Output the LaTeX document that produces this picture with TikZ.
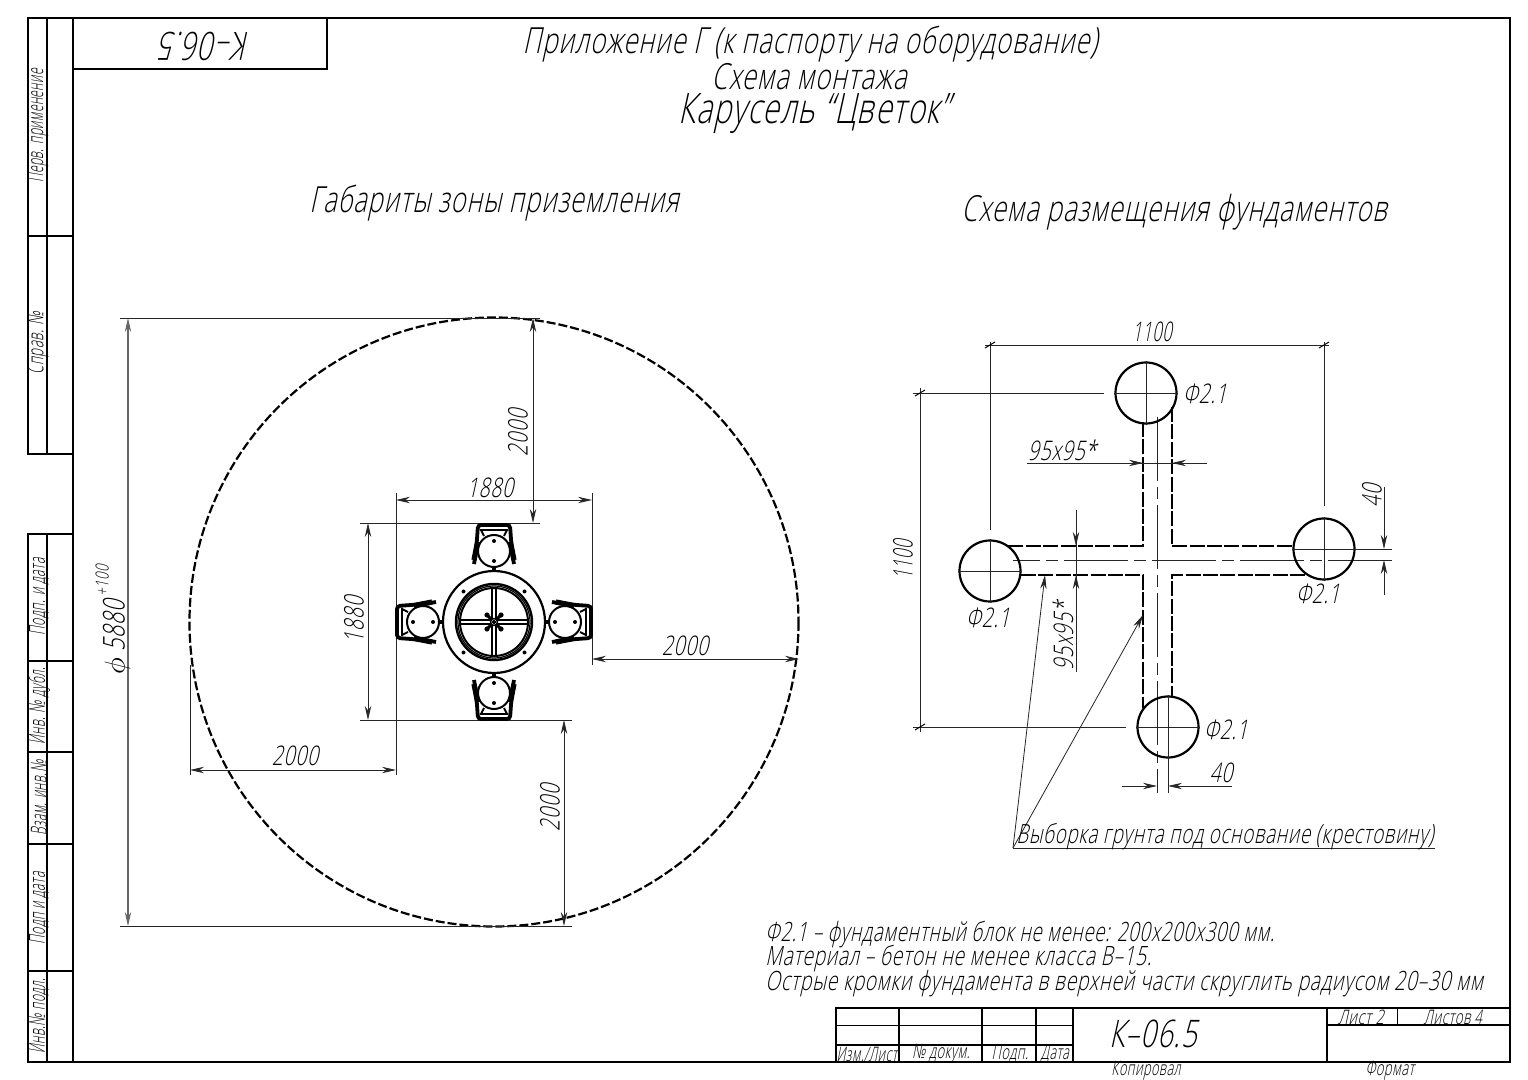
\documentclass[tikz,border=0pt]{standalone}
\usepackage{fontspec}
\usepackage{graphicx}
\usetikzlibrary{arrows.meta}
\setmainfont[FakeSlant=0.22,FakeStretch=0.72,LetterSpace=2.5]{Open Sans Light}
\newcommand\fsz[1]{\fontsize{#1}{#1}\selectfont}
\newcommand\nrw[2]{\scalebox{#1}[1]{#2}}
\tikzset{
 x=0.5pt,y=-0.5pt,
 tx/.style={inner sep=0pt,anchor=center,text=black},
 frame/.style={line width=0.95pt,black},
 thin line/.style={line width=0.38pt,black!85},
 dimline/.style={line width=0.4pt,black!85},
 dbl/.style={dimline,{Stealth[length=7pt,width=3.2pt]}-{Stealth[length=7pt,width=3.2pt]}},
 tipend/.style={dimline,-{Stealth[length=7pt,width=3.2pt]}},
 hidden/.style={line width=1.1pt,black,dash pattern=on 7.5pt off 1.2pt},
 axis/.style={line width=0.38pt,black!85,dash pattern=on 32pt off 3pt on 6pt off 3pt},
 found/.style={circle,draw=black,line width=1.1pt,minimum size=30.5pt,inner sep=0pt},
}
\begin{document}
\begin{tikzpicture}
\useasboundingbox[fill=white] (0,0) rectangle (1528,1080);
% frame
\draw[frame] (73,18) rectangle (1510,1062);
\draw[frame] (28,18) rectangle (73,454);
\draw[frame] (47,18) -- (47,454);
\draw[line width=.6pt] (28,236) -- (73,236);
\draw[frame] (28,534) rectangle (73,1062);
\draw[frame] (47,534) -- (47,1062);
\foreach \yy in {661,752,844,971} \draw[line width=.6pt] (28,\yy) -- (73,\yy);
\draw[frame] (73,69) -- (327,69) -- (327,18);
% left strip text
\node[tx,rotate=90] (t1) at (38,126) {\fsz{11}\nrw{.76}{Перв. применение}};
\node[tx,rotate=90] (t2) at (38,343) {\fsz{11}\nrw{.84}{Справ. №}};
\node[tx,rotate=90] (t3) at (39,597) {\fsz{11}\nrw{.78}{Подп. и дата}};
\node[tx,rotate=90] (t4) at (39,706) {\fsz{11}\nrw{.76}{Инв. № дубл.}};
\node[tx,rotate=90] (t5) at (39,798) {\fsz{11}\nrw{.76}{Взам. инв.№}};
\node[tx,rotate=90] (t6) at (39,908) {\fsz{11}\nrw{.78}{Подп и дата}};
\node[tx,rotate=90] (t7) at (39,1016) {\fsz{11}\nrw{.76}{Инв.№ подл.}};
\node[tx,rotate=180] (t8) at (206,46) {\fsz{19.5}К–06.5};
% titles
\node[tx] (h1) at (810,44) {\fsz{18}Приложение Г (к паспорту на оборудование)};
\node[tx] (h2) at (809,77) {\fsz{18}Схема монтажа};
\node[tx] (h3) at (814,114) {\fsz{21}Карусель “Цветок”};
\node[tx] (h4) at (494,203) {\fsz{18}\nrw{.985}{Габариты зоны приземления}};
\node[tx] (h5) at (1174,212) {\fsz{18}Схема размещения фундаментов};
% left view
\draw[line width=1.1pt,black,dash pattern=on 4.5pt off 1.5pt] (494,622) circle[radius=304.5];
\draw[thin line] (120,318) -- (540,318);
\draw[thin line] (120,926) -- (572,926);
\draw[dbl,black!60,line width=.55pt] (128,318) -- (128,926);
\node[tx,rotate=90] (d1) at (113,620) {\fsz{15}$\phi$ 5880\raisebox{8pt}{\fsz{9} +100}};
\draw[thin line] (396,493) -- (396,775);
\draw[thin line] (592,493) -- (592,665);
\draw[thin line] (360,523) -- (540,523);
\draw[thin line] (360,720) -- (572,720);
\draw[thin line] (190,665) -- (190,775);
\draw[dbl] (396,500) -- (592,500);
\draw[dbl] (368,523) -- (368,720);
\draw[dbl] (533,318) -- (533,523);
\draw[dbl] (592,659) -- (799,659);
\draw[dbl] (190,770) -- (396,770);
\draw[dbl] (564,720) -- (564,926);
\node[tx] (d2) at (490,488) {\fsz{13.5}1880};
\node[tx,rotate=90] (d3) at (354,620) {\fsz{13.5}1880};
\node[tx,rotate=90] (d4) at (518,433) {\fsz{13.5}2000};
\node[tx] (d5) at (685,646) {\fsz{13.5}2000};
\node[tx] (d6) at (295,756) {\fsz{13.5}2000};
\node[tx,rotate=90] (d7) at (550,808) {\fsz{13.5}2000};
% carousel
\begin{scope}[shift={(494,622)}]
 \draw[line width=1.1pt] (0,0) circle[radius=51];
 \draw[line width=1.2pt] (0,0) circle[radius=38];
 \draw[line width=.6pt] (0,0) circle[radius=36];
 \draw[line width=1pt] (0,0) circle[radius=34];
 \foreach \a in {0,90,180,270}{
 \begin{scope}[rotate=\a]
  \draw[line width=.8pt] (-2.2,-34) -- (-2.2,0) (2.2,-34) -- (2.2,0);
  \fill (-30.5,-30.5) circle[radius=2];
  \fill (-7,-7) circle[radius=2.6];
  \draw[line width=1.5pt] (-3,-3) -- (-8,-8);
  \draw[line width=1pt] (0,-71) circle[radius=16];
  \fill (0,-81) circle[radius=2];
  \fill (0,-61) circle[radius=2];
  \draw[line width=1.8pt] (0,-55) -- (0,-51);
  \draw[line width=1.9pt,rounded corners=1.5pt] (-20,-58) -- (-18,-69) -- (-16,-97) -- (16,-97) -- (18,-69) -- (20,-58);
  \draw[line width=2.6pt] (-16.5,-80) -- (-20,-62) (16.5,-80) -- (20,-62);
  \draw[line width=.9pt] (-14,-92) -- (14,-92) (-13,-92) -- (-10,-86) (13,-92) -- (10,-86);
 \end{scope}}
 \draw[line width=.7pt,fill=white] (0,0) circle[radius=3.5];
 \draw[line width=.8pt] (0,0) circle[radius=1.5];
\end{scope}
% right view: foundation outlines
\draw[hidden] (1143,422) -- (1143,546) -- (1008,546);
\draw[hidden] (1172,407) -- (1172,546) -- (1293,546);
\draw[hidden] (1021,575) -- (1143,575) -- (1143,708);
\draw[hidden] (1305,575) -- (1172,575) -- (1172,697);
\draw[axis] (1157,417) -- (1157,793);
\draw[axis] (1392,560) -- (1013,560);
\node[found] (c1) at (1146,393) {};
\node[found] (c2) at (990,571) {};
\node[found] (c3) at (1324,549) {};
\node[found] (c4) at (1168,727) {};
\draw[thin line] (c1.north) -- (c1.south) (c1.west) -- (c1.east);
\draw[thin line] (c2.north) -- (c2.south) (c2.west) -- (c2.east);
\draw[thin line] (c3.north) -- (c3.south) (c3.west) -- (1392,549);
\draw[thin line] (c4.north) -- (1168,793) (c4.west) -- (c4.east);
\draw[thin line] (913,393) -- (1104,393);
\draw[thin line] (913,727) -- (1126,727);
\draw[thin line] (990,342) -- (990,530);
\draw[thin line] (1324,342) -- (1324,506);
% 1100 dims
\draw[thin line] (985,345) -- (1329,345);
\draw[thin line] (920,388) -- (920,732);
\foreach \p in {(990,345),(1324,345),(920,393),(920,727)}
  \draw[line width=.5pt] \p ++(-5,3) -- ++(10,-6);
\node[tx] (e1) at (1152,332) {\fsz{13.5}\nrw{.85}{1100}};
\node[tx,rotate=90] (e2) at (903,560) {\fsz{13.5}\nrw{.85}{1100}};
% 95x95
\draw[tipend] (1120,463) -- (1143,463);
\draw[tipend] (1195,463) -- (1172,463);
\draw[thin line] (1027,463) -- (1207,463);
\node[tx] (e3) at (1062,450) {\fsz{13.5}95x95*};
\draw[tipend] (1076,510) -- (1076,546);
\draw[tipend] (1076,610) -- (1076,575);
\draw[thin line] (1076,510) -- (1076,672);
\node[tx,rotate=90] (e4) at (1063,636) {\fsz{13.5}95x95*};
% 40
\draw[tipend] (1384,487) -- (1384,549);
\draw[tipend] (1384,595) -- (1384,560);
\node[tx,rotate=90] (e5) at (1372,496) {\fsz{13.5}40};
\draw[tipend] (1122,786) -- (1157,786);
\draw[tipend] (1232,786) -- (1168,786);
\node[tx] (e6) at (1221,773) {\fsz{13.5}40};
% phi labels
\node[tx] (f1) at (1205,394) {\fsz{13.5}Ф2.1};
\node[tx] (f2) at (988,618) {\fsz{13.5}Ф2.1};
\node[tx] (f3) at (1318,594) {\fsz{13.5}Ф2.1};
\node[tx] (f4) at (1226,730) {\fsz{13.5}Ф2.1};
% leaders
\coordinate (ld) at (1013,848);
\coordinate (le) at (1435,848);
\coordinate (la) at (1045,575);
\coordinate (lb) at (1143,615);
\draw[tipend] (ld) -- (la);
\draw[tipend] (ld) -- (lb);
\draw[thin line] (ld) -- (le);
\node[tx] (g1) at (1225,837) {\fsz{13.2}\nrw{.99}{Выборка грунта под основание (крестовину)}};
% notes
\node[tx,anchor=west] (n1) at (765,935) {\fsz{13.3}\nrw{.975}{Ф2.1 – фундаментный блок не менее: 200х200х300 мм.}};
\node[tx,anchor=west] (n2) at (765,959) {\fsz{13.3}Материал – бетон не менее класса В–15.};
\node[tx,anchor=west] (n3) at (765,984) {\fsz{13.3}\nrw{1.008}{Острые кромки фундамента в верхней части скруглить радиусом 20–30 мм}};
% title block
\draw[frame] (836,1062) -- (836,1008) -- (1510,1008);
\draw[frame] (1073,1008) -- (1073,1062);
\draw[frame] (1327,1008) -- (1327,1062);
\draw[line width=.5pt] (836,1025) -- (1073,1025);
\draw[frame] (836,1045) -- (1073,1045);
\draw[frame] (1327,1025) -- (1510,1025);
\draw[line width=.5pt] (1397,1008) -- (1397,1025);
\foreach \xx in {899,982,1036} \draw[frame] (\xx,1008) -- (\xx,1062);
\node[tx] (b1) at (867,1054) {\fsz{10}\nrw{.86}{Изм./Лист}};
\node[tx] (b2) at (941,1054) {\fsz{10}\nrw{.9}{№ докум.}};
\node[tx] (b3) at (1010,1054) {\fsz{10}\nrw{.9}{Подп.}};
\node[tx] (b4) at (1055,1054) {\fsz{10}\nrw{.86}{Дата}};
\node[tx] (b5) at (1153,1034) {\fsz{19}К–06.5};
\node[tx] (b6) at (1361,1017) {\fsz{10}Лист 2};
\node[tx] (b7) at (1453,1017) {\fsz{10}\nrw{.92}{Листов 4}};
\node[tx] (b8) at (1146,1071) {\fsz{10}\nrw{.88}{Копировал}};
\node[tx] (b9) at (1390,1071) {\fsz{10}\nrw{.9}{Формат}};
\end{tikzpicture}
\end{document}
